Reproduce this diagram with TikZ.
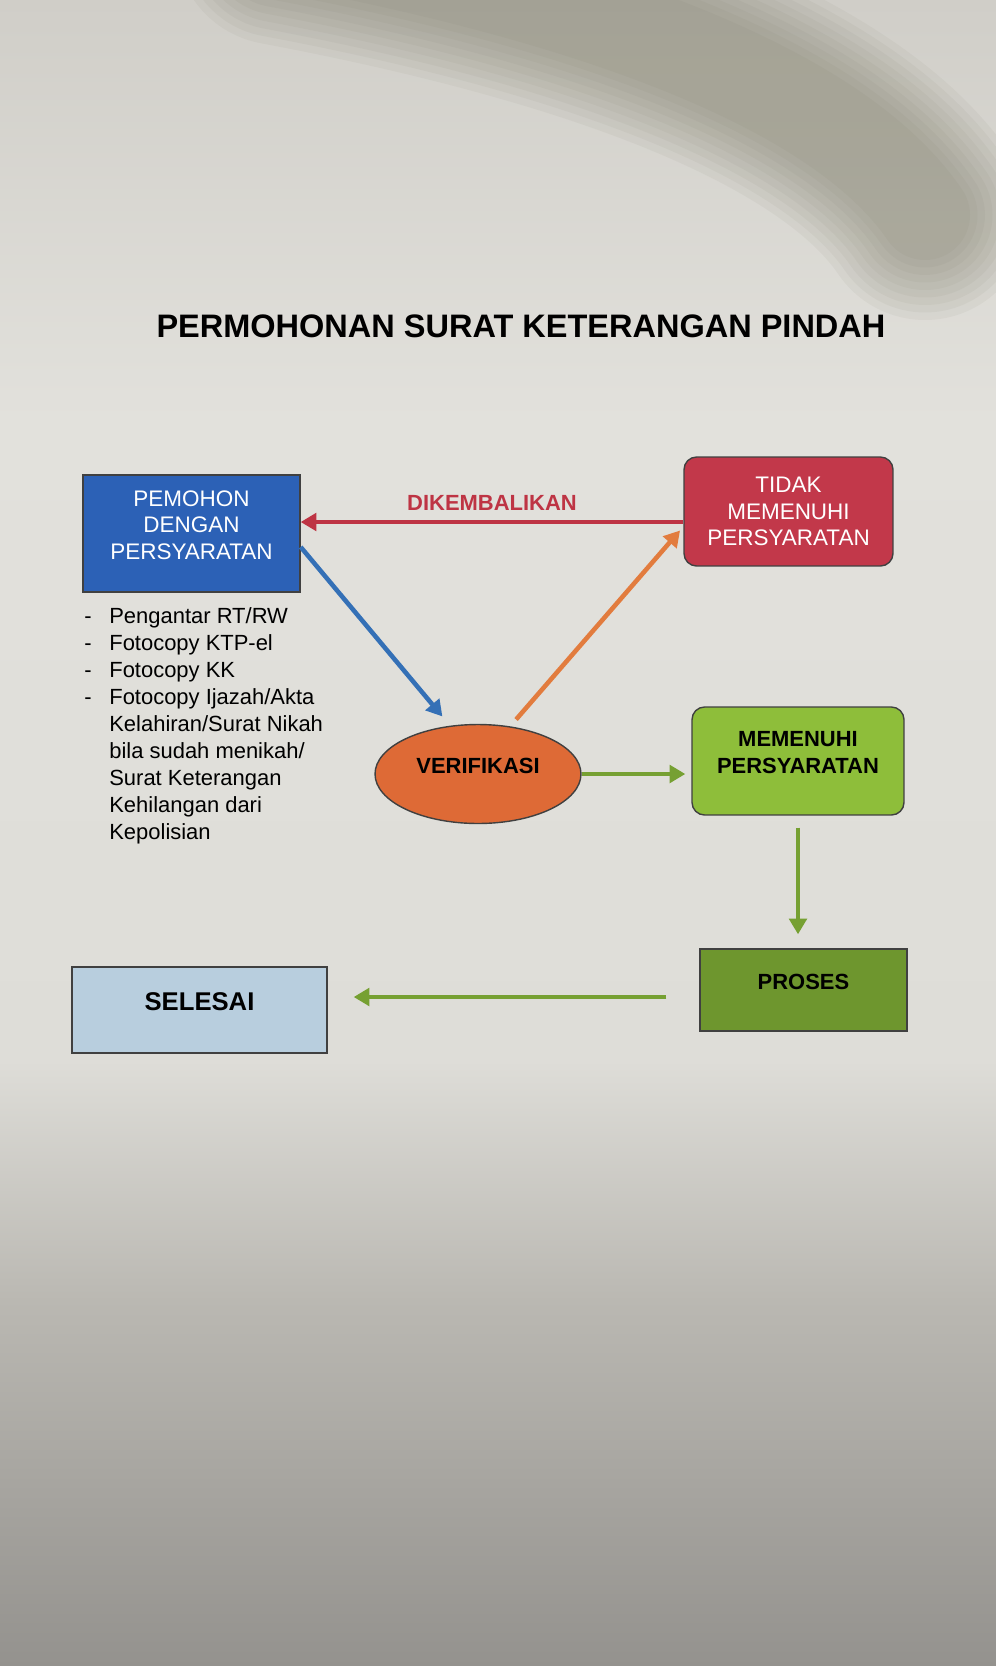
\documentclass[tikz,border=0pt]{standalone}
\usepackage{fontspec}
\setmainfont{Liberation Sans}
\usetikzlibrary{arrows.meta,shapes.geometric,calc}
\definecolor{kertas1}{RGB}{208,206,200}
\definecolor{kertas2}{RGB}{226,225,220}
\definecolor{kertas3}{RGB}{222,221,216}
\definecolor{kertas4}{RGB}{186,184,178}
\definecolor{kertas5}{RGB}{148,146,142}
\definecolor{bayangan}{RGB}{110,108,86}
\definecolor{biru}{RGB}{44,97,182}
\definecolor{birupanah}{RGB}{52,112,182}
\definecolor{merah}{RGB}{194,56,74}
\definecolor{merahpanah}{RGB}{190,52,68}
\definecolor{oranye}{RGB}{222,106,54}
\definecolor{oranyepanah}{RGB}{226,124,62}
\definecolor{hijaumuda}{RGB}{142,190,58}
\definecolor{hijautua}{RGB}{110,150,46}
\definecolor{hijaupanah}{RGB}{118,160,50}
\definecolor{birumuda}{RGB}{184,206,222}
\tikzset{
    kotak/.style={draw=black!75, line width=0.8pt, align=center, inner sep=2pt},
    bulat/.style={kotak, rounded corners=0.25cm},
    naik/.style={text depth=0.34cm},
    panah/.style={line width=2.6pt, -{Triangle[length=9pt,width=10pt]}},
    teksbox/.style={font=\fontsize{12.8}{15}\selectfont},
    teksbold/.style={font=\fontsize{12.5}{15}\selectfont\bfseries},
  }

\begin{document}
\begin{tikzpicture}[x=0.02cm,y=-0.02cm]
			          \useasboundingbox (0,0) rectangle (996,1666);
			          %kertas (foto)
			          \begin{scope}
			          \clip (0,0) rectangle (996,1666);
			          \shade[top color=kertas1, bottom color=kertas2] (0,0) rectangle (996,421);
			          \shade[top color=kertas2, bottom color=kertas3] (0,420) rectangle (996,1061);
			          \shade[top color=kertas3, bottom color=kertas4] (0,1060) rectangle (996,1301);
			          \shade[top color=kertas4, bottom color=kertas5] (0,1300) rectangle (996,1666);
			          %bayangan atas kanan
			          \foreach \w in {4.2,3.9,...,1.5}
			            {\draw[bayangan, line width=\w cm, opacity=0.06, line cap=round] (280,-60) .. controls (600,0) and (840,90) .. (925,215);}
			          \end{scope}
			          %judul
				  \node[font=\fontsize{18.5}{22}\selectfont\bfseries] (judul) at (521,326) {PERMOHONAN SURAT KETERANGAN PINDAH};
				  %kotak
				  \node[kotak, naik, teksbox, fill=biru, text=white, minimum width=4.34cm, minimum height=2.34cm] (pemohon) at (191.5,533.5) {PEMOHON\\DENGAN\\PERSYARATAN};
				  \node[bulat, teksbox, fill=merah, text=white, minimum width=4.18cm, minimum height=2.18cm] (tidak) at (788.5,511.5) {TIDAK\\MEMENUHI\\PERSYARATAN};
				  \node[ellipse, naik, draw=black!75, line width=0.8pt, fill=oranye, teksbold, minimum width=4.12cm, minimum height=1.98cm] (verif) at (478,774) {VERIFIKASI};
				  \node[bulat, naik, teksbold, fill=hijaumuda, minimum width=4.24cm, minimum height=2.16cm] (memenuhi) at (798,761) {MEMENUHI\\PERSYARATAN};
				  \node[kotak, naik, teksbold, fill=hijautua, minimum width=4.14cm, minimum height=1.64cm] (proses) at (803.5,990) {PROSES};
				  \node[kotak, naik, font=\fontsize{14.6}{17}\selectfont\bfseries, fill=birumuda, minimum width=5.1cm, minimum height=1.72cm] (selesai) at (199.5,1010) {SELESAI};
				  %syarat
				  \node[anchor=north west, inner sep=0pt, font=\fontsize{12.5}{15.4}\selectfont] (syarat) at (84,604) {%
				    \begin{tabular}{@{}p{0.5cm}@{}l@{}}
				    - & Pengantar RT/RW\\
				    - & Fotocopy KTP-el\\
				    - & Fotocopy KK\\
				    - & Fotocopy Ijazah/Akta\\
				      & Kelahiran/Surat Nikah\\
				      & bila sudah menikah/\\
				      & Surat Keterangan\\
				      & Kehilangan dari\\
				      & Kepolisian
				    \end{tabular}};
				  %panah
				  \coordinate (pk) at ([yshift=-0.14cm]proses.west);
				  \draw[panah, merahpanah] (tidak.west |- 0,522) -- (pemohon.east |- 0,522)
				        node[midway, above=2pt, teksbold, text=merahpanah] (balik) {DIKEMBALIKAN};
				  \draw[panah, birupanah, shorten >=0.24cm] (pemohon.east |- 0,547) -- (verif.120);
				  \draw[panah, oranyepanah, shorten <=0.18cm, shorten >=0.1cm] (verif.56) -- ([yshift=0.8cm]tidak.south west);
				  \draw[panah, hijaupanah, shorten >=0.12cm] (verif.east) -- (memenuhi.west |- verif.east);
				  \draw[panah, hijaupanah, shorten <=0.24cm, shorten >=0.28cm] (memenuhi.south) -- (memenuhi.south |- proses.north);
				  \draw[panah, hijaupanah, shorten <=0.66cm, shorten >=0.52cm] (pk) -- (pk -| selesai.east);
				  \end{tikzpicture}
\end{document}
